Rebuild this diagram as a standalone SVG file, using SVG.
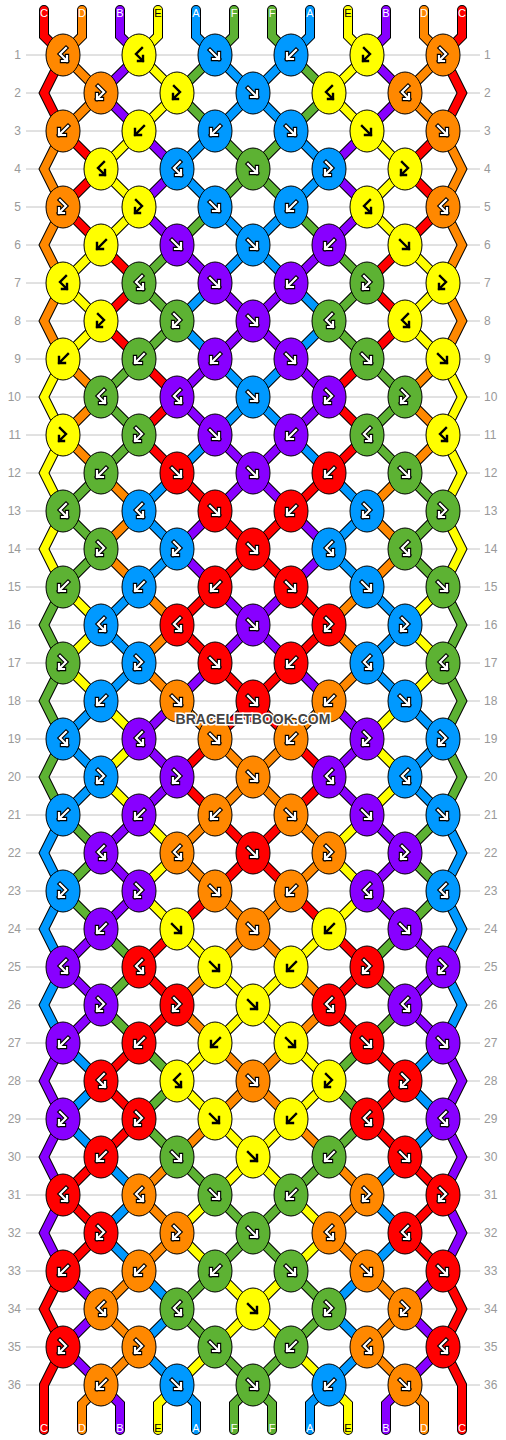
<svg xmlns="http://www.w3.org/2000/svg" width="506" height="1440" viewBox="0 0 506 1440">
<style>
.grid{stroke:#c4c4c4;stroke-width:1;fill:none}
.num{font-family:"Liberation Sans",Arial,sans-serif;font-size:12px;fill:#999}
.nl{text-anchor:end}
.lab{font-family:"Liberation Sans",Arial,sans-serif;font-size:11px;fill:#fff;text-anchor:middle}
.labk{fill:#000}
.ol{fill:none;stroke:#000;stroke-width:10;stroke-linecap:round;stroke-linejoin:miter}
.st{fill:none;stroke-width:8;stroke-linecap:round;stroke-linejoin:miter}
.sR{stroke:#ff0000}.sO{stroke:#ff8800}.sP{stroke:#8800ff}.sY{stroke:#ffff00}.sB{stroke:#0099ff}.sG{stroke:#5db233}
.k ellipse{stroke:#000;stroke-width:1}
.R{fill:#ff0000}.O{fill:#ff8800}.P{fill:#8800ff}.Y{fill:#ffff00}.B{fill:#0099ff}.G{fill:#5db233}
.ao{fill:none;stroke:#000;stroke-width:4.4;stroke-linecap:square;stroke-linejoin:miter}
.ai{fill:none;stroke:#fff;stroke-width:2.2;stroke-linecap:square;stroke-linejoin:miter}
.ak{fill:none;stroke:#000;stroke-width:2.4;stroke-linecap:square;stroke-linejoin:miter}
.wm{font-family:"Liberation Sans",Arial,sans-serif;font-size:14px;font-weight:bold;fill:#444;stroke:#fff;stroke-width:3;paint-order:stroke;text-anchor:middle}
</style>
<defs>
<path id="pf" d="M-5,-5L4,4M4,-2V4H-2"/>
<path id="pb" d="M5,-5L-4,4M-4,-2V4H2"/>
<path id="pfb" d="M-3,-7L3,-1L-4,6M-4,1V6H1"/>
<path id="pbf" d="M3,-7L-3,-1L4,6M4,1V6H-1"/>
<g id="fw"><use href="#pf" class="ao"/><use href="#pf" class="ai"/></g>
<g id="bw"><use href="#pb" class="ao"/><use href="#pb" class="ai"/></g>
<g id="fbw"><use href="#pfb" class="ao"/><use href="#pfb" class="ai"/></g>
<g id="bfw"><use href="#pbf" class="ao"/><use href="#pbf" class="ai"/></g>
<use id="fk" href="#pf" class="ak"/>
<use id="bk" href="#pb" class="ak"/>
<use id="fbk" href="#pfb" class="ak"/>
<use id="bfk" href="#pbf" class="ak"/>
</defs>
<rect width="506" height="1440" fill="#fff"/>
<path class="grid" d="M26,55H480M26,93H480M26,131H480M26,169H480M26,207H480M26,245H480M26,283H480M26,321H480M26,359H480M26,397H480M26,435H480M26,473H480M26,511H480M26,549H480M26,587H480M26,625H480M26,663H480M26,701H480M26,739H480M26,777H480M26,815H480M26,853H480M26,891H480M26,929H480M26,967H480M26,1005H480M26,1043H480M26,1081H480M26,1119H480M26,1157H480M26,1195H480M26,1233H480M26,1271H480M26,1309H480M26,1347H480M26,1385H480"/>
<g id="row-numbers">
<text class="num nl" x="21" y="59">1</text><text class="num" x="484" y="59">1</text>
<text class="num nl" x="21" y="97">2</text><text class="num" x="484" y="97">2</text>
<text class="num nl" x="21" y="135">3</text><text class="num" x="484" y="135">3</text>
<text class="num nl" x="21" y="173">4</text><text class="num" x="484" y="173">4</text>
<text class="num nl" x="21" y="211">5</text><text class="num" x="484" y="211">5</text>
<text class="num nl" x="21" y="249">6</text><text class="num" x="484" y="249">6</text>
<text class="num nl" x="21" y="287">7</text><text class="num" x="484" y="287">7</text>
<text class="num nl" x="21" y="325">8</text><text class="num" x="484" y="325">8</text>
<text class="num nl" x="21" y="363">9</text><text class="num" x="484" y="363">9</text>
<text class="num nl" x="21" y="401">10</text><text class="num" x="484" y="401">10</text>
<text class="num nl" x="21" y="439">11</text><text class="num" x="484" y="439">11</text>
<text class="num nl" x="21" y="477">12</text><text class="num" x="484" y="477">12</text>
<text class="num nl" x="21" y="515">13</text><text class="num" x="484" y="515">13</text>
<text class="num nl" x="21" y="553">14</text><text class="num" x="484" y="553">14</text>
<text class="num nl" x="21" y="591">15</text><text class="num" x="484" y="591">15</text>
<text class="num nl" x="21" y="629">16</text><text class="num" x="484" y="629">16</text>
<text class="num nl" x="21" y="667">17</text><text class="num" x="484" y="667">17</text>
<text class="num nl" x="21" y="705">18</text><text class="num" x="484" y="705">18</text>
<text class="num nl" x="21" y="743">19</text><text class="num" x="484" y="743">19</text>
<text class="num nl" x="21" y="781">20</text><text class="num" x="484" y="781">20</text>
<text class="num nl" x="21" y="819">21</text><text class="num" x="484" y="819">21</text>
<text class="num nl" x="21" y="857">22</text><text class="num" x="484" y="857">22</text>
<text class="num nl" x="21" y="895">23</text><text class="num" x="484" y="895">23</text>
<text class="num nl" x="21" y="933">24</text><text class="num" x="484" y="933">24</text>
<text class="num nl" x="21" y="971">25</text><text class="num" x="484" y="971">25</text>
<text class="num nl" x="21" y="1009">26</text><text class="num" x="484" y="1009">26</text>
<text class="num nl" x="21" y="1047">27</text><text class="num" x="484" y="1047">27</text>
<text class="num nl" x="21" y="1085">28</text><text class="num" x="484" y="1085">28</text>
<text class="num nl" x="21" y="1123">29</text><text class="num" x="484" y="1123">29</text>
<text class="num nl" x="21" y="1161">30</text><text class="num" x="484" y="1161">30</text>
<text class="num nl" x="21" y="1199">31</text><text class="num" x="484" y="1199">31</text>
<text class="num nl" x="21" y="1237">32</text><text class="num" x="484" y="1237">32</text>
<text class="num nl" x="21" y="1275">33</text><text class="num" x="484" y="1275">33</text>
<text class="num nl" x="21" y="1313">34</text><text class="num" x="484" y="1313">34</text>
<text class="num nl" x="21" y="1351">35</text><text class="num" x="484" y="1351">35</text>
<text class="num nl" x="21" y="1389">36</text><text class="num" x="484" y="1389">36</text>
</g>
<g id="connectors">
<g class="ol">
<path d="M44,10V36l19,19l-19,38l19,38l38,38l-38,38l38,38l38,38l-38,38l38,38l38,38l-38,38l38,38l38,38l38,38l-38,38l-38,38l38,38l38,38l-38,38l-38,38l38,38l38,38l-38,38l-38,38l-38,38l38,38l-38,38l-38,38l38,38l-38,38l-38,38l38,38l-38,38l-19,38l19,38l-19,38l0,19V1430"/>
<path d="M82,10V36l-19,19l38,38l-38,38l-19,38l19,38l-19,38l19,38l-19,38l19,38l38,38l-38,38l38,38l38,38l-38,38l38,38l38,38l-38,38l38,38l38,38l38,38l-38,38l-38,38l38,38l38,38l-38,38l-38,38l38,38l38,38l-38,38l-38,38l-38,38l38,38l-38,38l-38,38l38,38l-38,38l-19,19V1430"/>
<path d="M120,10V36l19,19l-38,38l38,38l38,38l-38,38l38,38l38,38l38,38l-38,38l-38,38l38,38l38,38l-38,38l-38,38l38,38l38,38l-38,38l-38,38l-38,38l38,38l-38,38l-38,38l38,38l-38,38l-38,38l38,38l-38,38l-19,38l19,38l-19,38l19,38l-19,38l19,38l38,38l-38,38l38,38l19,19V1430"/>
<path d="M158,10V36l-19,19l38,38l-38,38l-38,38l38,38l-38,38l-38,38l38,38l-38,38l-19,38l19,38l-19,38l19,38l-19,38l19,38l38,38l-38,38l38,38l38,38l-38,38l38,38l38,38l-38,38l38,38l38,38l38,38l-38,38l-38,38l38,38l38,38l-38,38l-38,38l38,38l38,38l-38,38l-38,38l-19,19V1430"/>
<path d="M196,10V36l19,19l38,38l-38,38l-38,38l38,38l38,38l-38,38l-38,38l38,38l38,38l-38,38l-38,38l-38,38l38,38l-38,38l-38,38l38,38l-38,38l-38,38l38,38l-38,38l-19,38l19,38l-19,38l19,38l-19,38l19,38l38,38l-38,38l38,38l38,38l-38,38l38,38l38,38l-38,38l38,38l19,19V1430"/>
<path d="M234,10V36l-19,19l-38,38l38,38l38,38l-38,38l-38,38l-38,38l38,38l-38,38l-38,38l38,38l-38,38l-38,38l38,38l-38,38l-19,38l19,38l-19,38l19,38l-19,38l19,38l38,38l-38,38l38,38l38,38l-38,38l38,38l38,38l-38,38l38,38l38,38l38,38l-38,38l-38,38l38,38l38,38l-19,19V1430"/>
<g transform="matrix(-1 0 0 1 506 0)">
<path d="M44,10V36l19,19l-19,38l19,38l38,38l-38,38l38,38l38,38l-38,38l38,38l38,38l-38,38l38,38l38,38l38,38l-38,38l-38,38l38,38l38,38l-38,38l-38,38l38,38l38,38l-38,38l-38,38l-38,38l38,38l-38,38l-38,38l38,38l-38,38l-38,38l38,38l-38,38l-19,38l19,38l-19,38l0,19V1430"/>
<path d="M82,10V36l-19,19l38,38l-38,38l-19,38l19,38l-19,38l19,38l-19,38l19,38l38,38l-38,38l38,38l38,38l-38,38l38,38l38,38l-38,38l38,38l38,38l38,38l-38,38l-38,38l38,38l38,38l-38,38l-38,38l38,38l38,38l-38,38l-38,38l-38,38l38,38l-38,38l-38,38l38,38l-38,38l-19,19V1430"/>
<path d="M120,10V36l19,19l-38,38l38,38l38,38l-38,38l38,38l38,38l38,38l-38,38l-38,38l38,38l38,38l-38,38l-38,38l38,38l38,38l-38,38l-38,38l-38,38l38,38l-38,38l-38,38l38,38l-38,38l-38,38l38,38l-38,38l-19,38l19,38l-19,38l19,38l-19,38l19,38l38,38l-38,38l38,38l19,19V1430"/>
<path d="M158,10V36l-19,19l38,38l-38,38l-38,38l38,38l-38,38l-38,38l38,38l-38,38l-19,38l19,38l-19,38l19,38l-19,38l19,38l38,38l-38,38l38,38l38,38l-38,38l38,38l38,38l-38,38l38,38l38,38l38,38l-38,38l-38,38l38,38l38,38l-38,38l-38,38l38,38l38,38l-38,38l-38,38l-19,19V1430"/>
<path d="M196,10V36l19,19l38,38l-38,38l-38,38l38,38l38,38l-38,38l-38,38l38,38l38,38l-38,38l-38,38l-38,38l38,38l-38,38l-38,38l38,38l-38,38l-38,38l38,38l-38,38l-19,38l19,38l-19,38l19,38l-19,38l19,38l38,38l-38,38l38,38l38,38l-38,38l38,38l38,38l-38,38l38,38l19,19V1430"/>
<path d="M234,10V36l-19,19l-38,38l38,38l38,38l-38,38l-38,38l-38,38l38,38l-38,38l-38,38l38,38l-38,38l-38,38l38,38l-38,38l-19,38l19,38l-19,38l19,38l-19,38l19,38l38,38l-38,38l38,38l38,38l-38,38l38,38l38,38l-38,38l38,38l38,38l38,38l-38,38l-38,38l38,38l38,38l-19,19V1430"/>
</g>
</g>
<g class="st">
<path class="sR" d="M44,10V36l19,19l-19,38l19,38l38,38l-38,38l38,38l38,38l-38,38l38,38l38,38l-38,38l38,38l38,38l38,38l-38,38l-38,38l38,38l38,38l-38,38l-38,38l38,38l38,38l-38,38l-38,38l-38,38l38,38l-38,38l-38,38l38,38l-38,38l-38,38l38,38l-38,38l-19,38l19,38l-19,38l0,19V1430"/>
<path class="sO" d="M82,10V36l-19,19l38,38l-38,38l-19,38l19,38l-19,38l19,38l-19,38l19,38l38,38l-38,38l38,38l38,38l-38,38l38,38l38,38l-38,38l38,38l38,38l38,38l-38,38l-38,38l38,38l38,38l-38,38l-38,38l38,38l38,38l-38,38l-38,38l-38,38l38,38l-38,38l-38,38l38,38l-38,38l-19,19V1430"/>
<path class="sP" d="M120,10V36l19,19l-38,38l38,38l38,38l-38,38l38,38l38,38l38,38l-38,38l-38,38l38,38l38,38l-38,38l-38,38l38,38l38,38l-38,38l-38,38l-38,38l38,38l-38,38l-38,38l38,38l-38,38l-38,38l38,38l-38,38l-19,38l19,38l-19,38l19,38l-19,38l19,38l38,38l-38,38l38,38l19,19V1430"/>
<path class="sY" d="M158,10V36l-19,19l38,38l-38,38l-38,38l38,38l-38,38l-38,38l38,38l-38,38l-19,38l19,38l-19,38l19,38l-19,38l19,38l38,38l-38,38l38,38l38,38l-38,38l38,38l38,38l-38,38l38,38l38,38l38,38l-38,38l-38,38l38,38l38,38l-38,38l-38,38l38,38l38,38l-38,38l-38,38l-19,19V1430"/>
<path class="sB" d="M196,10V36l19,19l38,38l-38,38l-38,38l38,38l38,38l-38,38l-38,38l38,38l38,38l-38,38l-38,38l-38,38l38,38l-38,38l-38,38l38,38l-38,38l-38,38l38,38l-38,38l-19,38l19,38l-19,38l19,38l-19,38l19,38l38,38l-38,38l38,38l38,38l-38,38l38,38l38,38l-38,38l38,38l19,19V1430"/>
<path class="sG" d="M234,10V36l-19,19l-38,38l38,38l38,38l-38,38l-38,38l-38,38l38,38l-38,38l-38,38l38,38l-38,38l-38,38l38,38l-38,38l-19,38l19,38l-19,38l19,38l-19,38l19,38l38,38l-38,38l38,38l38,38l-38,38l38,38l38,38l-38,38l38,38l38,38l38,38l-38,38l-38,38l38,38l38,38l-19,19V1430"/>
<g transform="matrix(-1 0 0 1 506 0)">
<path class="sR" d="M44,10V36l19,19l-19,38l19,38l38,38l-38,38l38,38l38,38l-38,38l38,38l38,38l-38,38l38,38l38,38l38,38l-38,38l-38,38l38,38l38,38l-38,38l-38,38l38,38l38,38l-38,38l-38,38l-38,38l38,38l-38,38l-38,38l38,38l-38,38l-38,38l38,38l-38,38l-19,38l19,38l-19,38l0,19V1430"/>
<path class="sO" d="M82,10V36l-19,19l38,38l-38,38l-19,38l19,38l-19,38l19,38l-19,38l19,38l38,38l-38,38l38,38l38,38l-38,38l38,38l38,38l-38,38l38,38l38,38l38,38l-38,38l-38,38l38,38l38,38l-38,38l-38,38l38,38l38,38l-38,38l-38,38l-38,38l38,38l-38,38l-38,38l38,38l-38,38l-19,19V1430"/>
<path class="sP" d="M120,10V36l19,19l-38,38l38,38l38,38l-38,38l38,38l38,38l38,38l-38,38l-38,38l38,38l38,38l-38,38l-38,38l38,38l38,38l-38,38l-38,38l-38,38l38,38l-38,38l-38,38l38,38l-38,38l-38,38l38,38l-38,38l-19,38l19,38l-19,38l19,38l-19,38l19,38l38,38l-38,38l38,38l19,19V1430"/>
<path class="sY" d="M158,10V36l-19,19l38,38l-38,38l-38,38l38,38l-38,38l-38,38l38,38l-38,38l-19,38l19,38l-19,38l19,38l-19,38l19,38l38,38l-38,38l38,38l38,38l-38,38l38,38l38,38l-38,38l38,38l38,38l38,38l-38,38l-38,38l38,38l38,38l-38,38l-38,38l38,38l38,38l-38,38l-38,38l-19,19V1430"/>
<path class="sB" d="M196,10V36l19,19l38,38l-38,38l-38,38l38,38l38,38l-38,38l-38,38l38,38l38,38l-38,38l-38,38l-38,38l38,38l-38,38l-38,38l38,38l-38,38l-38,38l38,38l-38,38l-19,38l19,38l-19,38l19,38l-19,38l19,38l38,38l-38,38l38,38l38,38l-38,38l38,38l38,38l-38,38l38,38l19,19V1430"/>
<path class="sG" d="M234,10V36l-19,19l-38,38l38,38l38,38l-38,38l-38,38l-38,38l38,38l-38,38l-38,38l38,38l-38,38l-38,38l38,38l-38,38l-19,38l19,38l-19,38l19,38l-19,38l19,38l38,38l-38,38l38,38l38,38l-38,38l38,38l38,38l-38,38l38,38l38,38l38,38l-38,38l-38,38l38,38l38,38l-19,19V1430"/>
</g>
</g>
</g>
<g id="string-labels">
<text class="lab" x="44" y="17">C</text><text class="lab" x="82" y="17">D</text><text class="lab" x="120" y="17">B</text><text class="lab labk" x="158" y="17">E</text><text class="lab" x="196" y="17">A</text><text class="lab" x="234" y="17">F</text><text class="lab" x="272" y="17">F</text><text class="lab" x="310" y="17">A</text><text class="lab labk" x="348" y="17">E</text><text class="lab" x="386" y="17">B</text><text class="lab" x="424" y="17">D</text><text class="lab" x="462" y="17">C</text>
<text class="lab" x="44" y="1432">C</text><text class="lab" x="82" y="1432">D</text><text class="lab" x="120" y="1432">B</text><text class="lab labk" x="158" y="1432">E</text><text class="lab" x="196" y="1432">A</text><text class="lab" x="234" y="1432">F</text><text class="lab" x="272" y="1432">F</text><text class="lab" x="310" y="1432">A</text><text class="lab labk" x="348" y="1432">E</text><text class="lab" x="386" y="1432">B</text><text class="lab" x="424" y="1432">D</text><text class="lab" x="462" y="1432">C</text>
</g>
<g id="knots">
<g id="r1k1" class="k" transform="translate(63,55)"><ellipse class="O" rx="17" ry="21"/><use href="#bfw"/></g>
<g id="r1k2" class="k" transform="translate(139,55)"><ellipse class="Y" rx="17" ry="21"/><use href="#bfk"/></g>
<g id="r1k3" class="k" transform="translate(215,55)"><ellipse class="B" rx="17" ry="21"/><use href="#fw"/></g>
<g id="r1k4" class="k" transform="translate(291,55)"><ellipse class="B" rx="17" ry="21"/><use href="#bw"/></g>
<g id="r1k5" class="k" transform="translate(367,55)"><ellipse class="Y" rx="17" ry="21"/><use href="#fbk"/></g>
<g id="r1k6" class="k" transform="translate(443,55)"><ellipse class="O" rx="17" ry="21"/><use href="#fbw"/></g>
<g id="r2k1" class="k" transform="translate(101,93)"><ellipse class="O" rx="17" ry="21"/><use href="#fbw"/></g>
<g id="r2k2" class="k" transform="translate(177,93)"><ellipse class="Y" rx="17" ry="21"/><use href="#fbk"/></g>
<g id="r2k3" class="k" transform="translate(253,93)"><ellipse class="B" rx="17" ry="21"/><use href="#fw"/></g>
<g id="r2k4" class="k" transform="translate(329,93)"><ellipse class="Y" rx="17" ry="21"/><use href="#bfk"/></g>
<g id="r2k5" class="k" transform="translate(405,93)"><ellipse class="O" rx="17" ry="21"/><use href="#bfw"/></g>
<g id="r3k1" class="k" transform="translate(63,131)"><ellipse class="O" rx="17" ry="21"/><use href="#bw"/></g>
<g id="r3k2" class="k" transform="translate(139,131)"><ellipse class="Y" rx="17" ry="21"/><use href="#bk"/></g>
<g id="r3k3" class="k" transform="translate(215,131)"><ellipse class="B" rx="17" ry="21"/><use href="#bw"/></g>
<g id="r3k4" class="k" transform="translate(291,131)"><ellipse class="B" rx="17" ry="21"/><use href="#fw"/></g>
<g id="r3k5" class="k" transform="translate(367,131)"><ellipse class="Y" rx="17" ry="21"/><use href="#fk"/></g>
<g id="r3k6" class="k" transform="translate(443,131)"><ellipse class="O" rx="17" ry="21"/><use href="#fw"/></g>
<g id="r4k1" class="k" transform="translate(101,169)"><ellipse class="Y" rx="17" ry="21"/><use href="#bfk"/></g>
<g id="r4k2" class="k" transform="translate(177,169)"><ellipse class="B" rx="17" ry="21"/><use href="#bfw"/></g>
<g id="r4k3" class="k" transform="translate(253,169)"><ellipse class="G" rx="17" ry="21"/><use href="#fw"/></g>
<g id="r4k4" class="k" transform="translate(329,169)"><ellipse class="B" rx="17" ry="21"/><use href="#fbw"/></g>
<g id="r4k5" class="k" transform="translate(405,169)"><ellipse class="Y" rx="17" ry="21"/><use href="#fbk"/></g>
<g id="r5k1" class="k" transform="translate(63,207)"><ellipse class="O" rx="17" ry="21"/><use href="#fbw"/></g>
<g id="r5k2" class="k" transform="translate(139,207)"><ellipse class="Y" rx="17" ry="21"/><use href="#fbk"/></g>
<g id="r5k3" class="k" transform="translate(215,207)"><ellipse class="B" rx="17" ry="21"/><use href="#fw"/></g>
<g id="r5k4" class="k" transform="translate(291,207)"><ellipse class="B" rx="17" ry="21"/><use href="#bw"/></g>
<g id="r5k5" class="k" transform="translate(367,207)"><ellipse class="Y" rx="17" ry="21"/><use href="#bfk"/></g>
<g id="r5k6" class="k" transform="translate(443,207)"><ellipse class="O" rx="17" ry="21"/><use href="#bfw"/></g>
<g id="r6k1" class="k" transform="translate(101,245)"><ellipse class="Y" rx="17" ry="21"/><use href="#bk"/></g>
<g id="r6k2" class="k" transform="translate(177,245)"><ellipse class="P" rx="17" ry="21"/><use href="#fw"/></g>
<g id="r6k3" class="k" transform="translate(253,245)"><ellipse class="B" rx="17" ry="21"/><use href="#fw"/></g>
<g id="r6k4" class="k" transform="translate(329,245)"><ellipse class="P" rx="17" ry="21"/><use href="#bw"/></g>
<g id="r6k5" class="k" transform="translate(405,245)"><ellipse class="Y" rx="17" ry="21"/><use href="#fk"/></g>
<g id="r7k1" class="k" transform="translate(63,283)"><ellipse class="Y" rx="17" ry="21"/><use href="#bfk"/></g>
<g id="r7k2" class="k" transform="translate(139,283)"><ellipse class="G" rx="17" ry="21"/><use href="#bfw"/></g>
<g id="r7k3" class="k" transform="translate(215,283)"><ellipse class="P" rx="17" ry="21"/><use href="#fw"/></g>
<g id="r7k4" class="k" transform="translate(291,283)"><ellipse class="P" rx="17" ry="21"/><use href="#bw"/></g>
<g id="r7k5" class="k" transform="translate(367,283)"><ellipse class="G" rx="17" ry="21"/><use href="#fbw"/></g>
<g id="r7k6" class="k" transform="translate(443,283)"><ellipse class="Y" rx="17" ry="21"/><use href="#fbk"/></g>
<g id="r8k1" class="k" transform="translate(101,321)"><ellipse class="Y" rx="17" ry="21"/><use href="#fbk"/></g>
<g id="r8k2" class="k" transform="translate(177,321)"><ellipse class="G" rx="17" ry="21"/><use href="#fbw"/></g>
<g id="r8k3" class="k" transform="translate(253,321)"><ellipse class="P" rx="17" ry="21"/><use href="#fw"/></g>
<g id="r8k4" class="k" transform="translate(329,321)"><ellipse class="G" rx="17" ry="21"/><use href="#bfw"/></g>
<g id="r8k5" class="k" transform="translate(405,321)"><ellipse class="Y" rx="17" ry="21"/><use href="#bfk"/></g>
<g id="r9k1" class="k" transform="translate(63,359)"><ellipse class="Y" rx="17" ry="21"/><use href="#bk"/></g>
<g id="r9k2" class="k" transform="translate(139,359)"><ellipse class="G" rx="17" ry="21"/><use href="#bw"/></g>
<g id="r9k3" class="k" transform="translate(215,359)"><ellipse class="P" rx="17" ry="21"/><use href="#bw"/></g>
<g id="r9k4" class="k" transform="translate(291,359)"><ellipse class="P" rx="17" ry="21"/><use href="#fw"/></g>
<g id="r9k5" class="k" transform="translate(367,359)"><ellipse class="G" rx="17" ry="21"/><use href="#fw"/></g>
<g id="r9k6" class="k" transform="translate(443,359)"><ellipse class="Y" rx="17" ry="21"/><use href="#fk"/></g>
<g id="r10k1" class="k" transform="translate(101,397)"><ellipse class="G" rx="17" ry="21"/><use href="#bfw"/></g>
<g id="r10k2" class="k" transform="translate(177,397)"><ellipse class="P" rx="17" ry="21"/><use href="#bfw"/></g>
<g id="r10k3" class="k" transform="translate(253,397)"><ellipse class="B" rx="17" ry="21"/><use href="#fw"/></g>
<g id="r10k4" class="k" transform="translate(329,397)"><ellipse class="P" rx="17" ry="21"/><use href="#fbw"/></g>
<g id="r10k5" class="k" transform="translate(405,397)"><ellipse class="G" rx="17" ry="21"/><use href="#fbw"/></g>
<g id="r11k1" class="k" transform="translate(63,435)"><ellipse class="Y" rx="17" ry="21"/><use href="#fbk"/></g>
<g id="r11k2" class="k" transform="translate(139,435)"><ellipse class="G" rx="17" ry="21"/><use href="#fbw"/></g>
<g id="r11k3" class="k" transform="translate(215,435)"><ellipse class="P" rx="17" ry="21"/><use href="#fw"/></g>
<g id="r11k4" class="k" transform="translate(291,435)"><ellipse class="P" rx="17" ry="21"/><use href="#bw"/></g>
<g id="r11k5" class="k" transform="translate(367,435)"><ellipse class="G" rx="17" ry="21"/><use href="#bfw"/></g>
<g id="r11k6" class="k" transform="translate(443,435)"><ellipse class="Y" rx="17" ry="21"/><use href="#bfk"/></g>
<g id="r12k1" class="k" transform="translate(101,473)"><ellipse class="G" rx="17" ry="21"/><use href="#bw"/></g>
<g id="r12k2" class="k" transform="translate(177,473)"><ellipse class="R" rx="17" ry="21"/><use href="#fw"/></g>
<g id="r12k3" class="k" transform="translate(253,473)"><ellipse class="P" rx="17" ry="21"/><use href="#fw"/></g>
<g id="r12k4" class="k" transform="translate(329,473)"><ellipse class="R" rx="17" ry="21"/><use href="#bw"/></g>
<g id="r12k5" class="k" transform="translate(405,473)"><ellipse class="G" rx="17" ry="21"/><use href="#fw"/></g>
<g id="r13k1" class="k" transform="translate(63,511)"><ellipse class="G" rx="17" ry="21"/><use href="#bfw"/></g>
<g id="r13k2" class="k" transform="translate(139,511)"><ellipse class="B" rx="17" ry="21"/><use href="#bfw"/></g>
<g id="r13k3" class="k" transform="translate(215,511)"><ellipse class="R" rx="17" ry="21"/><use href="#fw"/></g>
<g id="r13k4" class="k" transform="translate(291,511)"><ellipse class="R" rx="17" ry="21"/><use href="#bw"/></g>
<g id="r13k5" class="k" transform="translate(367,511)"><ellipse class="B" rx="17" ry="21"/><use href="#fbw"/></g>
<g id="r13k6" class="k" transform="translate(443,511)"><ellipse class="G" rx="17" ry="21"/><use href="#fbw"/></g>
<g id="r14k1" class="k" transform="translate(101,549)"><ellipse class="G" rx="17" ry="21"/><use href="#fbw"/></g>
<g id="r14k2" class="k" transform="translate(177,549)"><ellipse class="B" rx="17" ry="21"/><use href="#fbw"/></g>
<g id="r14k3" class="k" transform="translate(253,549)"><ellipse class="R" rx="17" ry="21"/><use href="#fw"/></g>
<g id="r14k4" class="k" transform="translate(329,549)"><ellipse class="B" rx="17" ry="21"/><use href="#bfw"/></g>
<g id="r14k5" class="k" transform="translate(405,549)"><ellipse class="G" rx="17" ry="21"/><use href="#bfw"/></g>
<g id="r15k1" class="k" transform="translate(63,587)"><ellipse class="G" rx="17" ry="21"/><use href="#bw"/></g>
<g id="r15k2" class="k" transform="translate(139,587)"><ellipse class="B" rx="17" ry="21"/><use href="#bw"/></g>
<g id="r15k3" class="k" transform="translate(215,587)"><ellipse class="R" rx="17" ry="21"/><use href="#bw"/></g>
<g id="r15k4" class="k" transform="translate(291,587)"><ellipse class="R" rx="17" ry="21"/><use href="#fw"/></g>
<g id="r15k5" class="k" transform="translate(367,587)"><ellipse class="B" rx="17" ry="21"/><use href="#fw"/></g>
<g id="r15k6" class="k" transform="translate(443,587)"><ellipse class="G" rx="17" ry="21"/><use href="#fw"/></g>
<g id="r16k1" class="k" transform="translate(101,625)"><ellipse class="B" rx="17" ry="21"/><use href="#bfw"/></g>
<g id="r16k2" class="k" transform="translate(177,625)"><ellipse class="R" rx="17" ry="21"/><use href="#bfw"/></g>
<g id="r16k3" class="k" transform="translate(253,625)"><ellipse class="P" rx="17" ry="21"/><use href="#fw"/></g>
<g id="r16k4" class="k" transform="translate(329,625)"><ellipse class="R" rx="17" ry="21"/><use href="#fbw"/></g>
<g id="r16k5" class="k" transform="translate(405,625)"><ellipse class="B" rx="17" ry="21"/><use href="#fbw"/></g>
<g id="r17k1" class="k" transform="translate(63,663)"><ellipse class="G" rx="17" ry="21"/><use href="#fbw"/></g>
<g id="r17k2" class="k" transform="translate(139,663)"><ellipse class="B" rx="17" ry="21"/><use href="#fbw"/></g>
<g id="r17k3" class="k" transform="translate(215,663)"><ellipse class="R" rx="17" ry="21"/><use href="#fw"/></g>
<g id="r17k4" class="k" transform="translate(291,663)"><ellipse class="R" rx="17" ry="21"/><use href="#bw"/></g>
<g id="r17k5" class="k" transform="translate(367,663)"><ellipse class="B" rx="17" ry="21"/><use href="#bfw"/></g>
<g id="r17k6" class="k" transform="translate(443,663)"><ellipse class="G" rx="17" ry="21"/><use href="#bfw"/></g>
<g id="r18k1" class="k" transform="translate(101,701)"><ellipse class="B" rx="17" ry="21"/><use href="#bw"/></g>
<g id="r18k2" class="k" transform="translate(177,701)"><ellipse class="O" rx="17" ry="21"/><use href="#fw"/></g>
<g id="r18k3" class="k" transform="translate(253,701)"><ellipse class="R" rx="17" ry="21"/><use href="#fw"/></g>
<g id="r18k4" class="k" transform="translate(329,701)"><ellipse class="O" rx="17" ry="21"/><use href="#bw"/></g>
<g id="r18k5" class="k" transform="translate(405,701)"><ellipse class="B" rx="17" ry="21"/><use href="#fw"/></g>
<g id="r19k1" class="k" transform="translate(63,739)"><ellipse class="B" rx="17" ry="21"/><use href="#bfw"/></g>
<g id="r19k2" class="k" transform="translate(139,739)"><ellipse class="P" rx="17" ry="21"/><use href="#bfw"/></g>
<g id="r19k3" class="k" transform="translate(215,739)"><ellipse class="O" rx="17" ry="21"/><use href="#fw"/></g>
<g id="r19k4" class="k" transform="translate(291,739)"><ellipse class="O" rx="17" ry="21"/><use href="#bw"/></g>
<g id="r19k5" class="k" transform="translate(367,739)"><ellipse class="P" rx="17" ry="21"/><use href="#fbw"/></g>
<g id="r19k6" class="k" transform="translate(443,739)"><ellipse class="B" rx="17" ry="21"/><use href="#fbw"/></g>
<g id="r20k1" class="k" transform="translate(101,777)"><ellipse class="B" rx="17" ry="21"/><use href="#fbw"/></g>
<g id="r20k2" class="k" transform="translate(177,777)"><ellipse class="P" rx="17" ry="21"/><use href="#fbw"/></g>
<g id="r20k3" class="k" transform="translate(253,777)"><ellipse class="O" rx="17" ry="21"/><use href="#fw"/></g>
<g id="r20k4" class="k" transform="translate(329,777)"><ellipse class="P" rx="17" ry="21"/><use href="#bfw"/></g>
<g id="r20k5" class="k" transform="translate(405,777)"><ellipse class="B" rx="17" ry="21"/><use href="#bfw"/></g>
<g id="r21k1" class="k" transform="translate(63,815)"><ellipse class="B" rx="17" ry="21"/><use href="#bw"/></g>
<g id="r21k2" class="k" transform="translate(139,815)"><ellipse class="P" rx="17" ry="21"/><use href="#bw"/></g>
<g id="r21k3" class="k" transform="translate(215,815)"><ellipse class="O" rx="17" ry="21"/><use href="#bw"/></g>
<g id="r21k4" class="k" transform="translate(291,815)"><ellipse class="O" rx="17" ry="21"/><use href="#fw"/></g>
<g id="r21k5" class="k" transform="translate(367,815)"><ellipse class="P" rx="17" ry="21"/><use href="#fw"/></g>
<g id="r21k6" class="k" transform="translate(443,815)"><ellipse class="B" rx="17" ry="21"/><use href="#fw"/></g>
<g id="r22k1" class="k" transform="translate(101,853)"><ellipse class="P" rx="17" ry="21"/><use href="#bfw"/></g>
<g id="r22k2" class="k" transform="translate(177,853)"><ellipse class="O" rx="17" ry="21"/><use href="#bfw"/></g>
<g id="r22k3" class="k" transform="translate(253,853)"><ellipse class="R" rx="17" ry="21"/><use href="#fw"/></g>
<g id="r22k4" class="k" transform="translate(329,853)"><ellipse class="O" rx="17" ry="21"/><use href="#fbw"/></g>
<g id="r22k5" class="k" transform="translate(405,853)"><ellipse class="P" rx="17" ry="21"/><use href="#fbw"/></g>
<g id="r23k1" class="k" transform="translate(63,891)"><ellipse class="B" rx="17" ry="21"/><use href="#fbw"/></g>
<g id="r23k2" class="k" transform="translate(139,891)"><ellipse class="P" rx="17" ry="21"/><use href="#fbw"/></g>
<g id="r23k3" class="k" transform="translate(215,891)"><ellipse class="O" rx="17" ry="21"/><use href="#fw"/></g>
<g id="r23k4" class="k" transform="translate(291,891)"><ellipse class="O" rx="17" ry="21"/><use href="#bw"/></g>
<g id="r23k5" class="k" transform="translate(367,891)"><ellipse class="P" rx="17" ry="21"/><use href="#bfw"/></g>
<g id="r23k6" class="k" transform="translate(443,891)"><ellipse class="B" rx="17" ry="21"/><use href="#bfw"/></g>
<g id="r24k1" class="k" transform="translate(101,929)"><ellipse class="P" rx="17" ry="21"/><use href="#bw"/></g>
<g id="r24k2" class="k" transform="translate(177,929)"><ellipse class="Y" rx="17" ry="21"/><use href="#fk"/></g>
<g id="r24k3" class="k" transform="translate(253,929)"><ellipse class="O" rx="17" ry="21"/><use href="#fw"/></g>
<g id="r24k4" class="k" transform="translate(329,929)"><ellipse class="Y" rx="17" ry="21"/><use href="#bk"/></g>
<g id="r24k5" class="k" transform="translate(405,929)"><ellipse class="P" rx="17" ry="21"/><use href="#fw"/></g>
<g id="r25k1" class="k" transform="translate(63,967)"><ellipse class="P" rx="17" ry="21"/><use href="#bfw"/></g>
<g id="r25k2" class="k" transform="translate(139,967)"><ellipse class="R" rx="17" ry="21"/><use href="#bfw"/></g>
<g id="r25k3" class="k" transform="translate(215,967)"><ellipse class="Y" rx="17" ry="21"/><use href="#fk"/></g>
<g id="r25k4" class="k" transform="translate(291,967)"><ellipse class="Y" rx="17" ry="21"/><use href="#bk"/></g>
<g id="r25k5" class="k" transform="translate(367,967)"><ellipse class="R" rx="17" ry="21"/><use href="#fbw"/></g>
<g id="r25k6" class="k" transform="translate(443,967)"><ellipse class="P" rx="17" ry="21"/><use href="#fbw"/></g>
<g id="r26k1" class="k" transform="translate(101,1005)"><ellipse class="P" rx="17" ry="21"/><use href="#fbw"/></g>
<g id="r26k2" class="k" transform="translate(177,1005)"><ellipse class="R" rx="17" ry="21"/><use href="#fbw"/></g>
<g id="r26k3" class="k" transform="translate(253,1005)"><ellipse class="Y" rx="17" ry="21"/><use href="#fk"/></g>
<g id="r26k4" class="k" transform="translate(329,1005)"><ellipse class="R" rx="17" ry="21"/><use href="#bfw"/></g>
<g id="r26k5" class="k" transform="translate(405,1005)"><ellipse class="P" rx="17" ry="21"/><use href="#bfw"/></g>
<g id="r27k1" class="k" transform="translate(63,1043)"><ellipse class="P" rx="17" ry="21"/><use href="#bw"/></g>
<g id="r27k2" class="k" transform="translate(139,1043)"><ellipse class="R" rx="17" ry="21"/><use href="#bw"/></g>
<g id="r27k3" class="k" transform="translate(215,1043)"><ellipse class="Y" rx="17" ry="21"/><use href="#bk"/></g>
<g id="r27k4" class="k" transform="translate(291,1043)"><ellipse class="Y" rx="17" ry="21"/><use href="#fk"/></g>
<g id="r27k5" class="k" transform="translate(367,1043)"><ellipse class="R" rx="17" ry="21"/><use href="#fw"/></g>
<g id="r27k6" class="k" transform="translate(443,1043)"><ellipse class="P" rx="17" ry="21"/><use href="#fw"/></g>
<g id="r28k1" class="k" transform="translate(101,1081)"><ellipse class="R" rx="17" ry="21"/><use href="#bfw"/></g>
<g id="r28k2" class="k" transform="translate(177,1081)"><ellipse class="Y" rx="17" ry="21"/><use href="#bfk"/></g>
<g id="r28k3" class="k" transform="translate(253,1081)"><ellipse class="O" rx="17" ry="21"/><use href="#fw"/></g>
<g id="r28k4" class="k" transform="translate(329,1081)"><ellipse class="Y" rx="17" ry="21"/><use href="#fbk"/></g>
<g id="r28k5" class="k" transform="translate(405,1081)"><ellipse class="R" rx="17" ry="21"/><use href="#fbw"/></g>
<g id="r29k1" class="k" transform="translate(63,1119)"><ellipse class="P" rx="17" ry="21"/><use href="#fbw"/></g>
<g id="r29k2" class="k" transform="translate(139,1119)"><ellipse class="R" rx="17" ry="21"/><use href="#fbw"/></g>
<g id="r29k3" class="k" transform="translate(215,1119)"><ellipse class="Y" rx="17" ry="21"/><use href="#fk"/></g>
<g id="r29k4" class="k" transform="translate(291,1119)"><ellipse class="Y" rx="17" ry="21"/><use href="#bk"/></g>
<g id="r29k5" class="k" transform="translate(367,1119)"><ellipse class="R" rx="17" ry="21"/><use href="#bfw"/></g>
<g id="r29k6" class="k" transform="translate(443,1119)"><ellipse class="P" rx="17" ry="21"/><use href="#bfw"/></g>
<g id="r30k1" class="k" transform="translate(101,1157)"><ellipse class="R" rx="17" ry="21"/><use href="#bw"/></g>
<g id="r30k2" class="k" transform="translate(177,1157)"><ellipse class="G" rx="17" ry="21"/><use href="#fw"/></g>
<g id="r30k3" class="k" transform="translate(253,1157)"><ellipse class="Y" rx="17" ry="21"/><use href="#fk"/></g>
<g id="r30k4" class="k" transform="translate(329,1157)"><ellipse class="G" rx="17" ry="21"/><use href="#bw"/></g>
<g id="r30k5" class="k" transform="translate(405,1157)"><ellipse class="R" rx="17" ry="21"/><use href="#fw"/></g>
<g id="r31k1" class="k" transform="translate(63,1195)"><ellipse class="R" rx="17" ry="21"/><use href="#bfw"/></g>
<g id="r31k2" class="k" transform="translate(139,1195)"><ellipse class="O" rx="17" ry="21"/><use href="#bfw"/></g>
<g id="r31k3" class="k" transform="translate(215,1195)"><ellipse class="G" rx="17" ry="21"/><use href="#fw"/></g>
<g id="r31k4" class="k" transform="translate(291,1195)"><ellipse class="G" rx="17" ry="21"/><use href="#bw"/></g>
<g id="r31k5" class="k" transform="translate(367,1195)"><ellipse class="O" rx="17" ry="21"/><use href="#fbw"/></g>
<g id="r31k6" class="k" transform="translate(443,1195)"><ellipse class="R" rx="17" ry="21"/><use href="#fbw"/></g>
<g id="r32k1" class="k" transform="translate(101,1233)"><ellipse class="R" rx="17" ry="21"/><use href="#fbw"/></g>
<g id="r32k2" class="k" transform="translate(177,1233)"><ellipse class="O" rx="17" ry="21"/><use href="#fbw"/></g>
<g id="r32k3" class="k" transform="translate(253,1233)"><ellipse class="G" rx="17" ry="21"/><use href="#fw"/></g>
<g id="r32k4" class="k" transform="translate(329,1233)"><ellipse class="O" rx="17" ry="21"/><use href="#bfw"/></g>
<g id="r32k5" class="k" transform="translate(405,1233)"><ellipse class="R" rx="17" ry="21"/><use href="#bfw"/></g>
<g id="r33k1" class="k" transform="translate(63,1271)"><ellipse class="R" rx="17" ry="21"/><use href="#bw"/></g>
<g id="r33k2" class="k" transform="translate(139,1271)"><ellipse class="O" rx="17" ry="21"/><use href="#bw"/></g>
<g id="r33k3" class="k" transform="translate(215,1271)"><ellipse class="G" rx="17" ry="21"/><use href="#bw"/></g>
<g id="r33k4" class="k" transform="translate(291,1271)"><ellipse class="G" rx="17" ry="21"/><use href="#fw"/></g>
<g id="r33k5" class="k" transform="translate(367,1271)"><ellipse class="O" rx="17" ry="21"/><use href="#fw"/></g>
<g id="r33k6" class="k" transform="translate(443,1271)"><ellipse class="R" rx="17" ry="21"/><use href="#fw"/></g>
<g id="r34k1" class="k" transform="translate(101,1309)"><ellipse class="O" rx="17" ry="21"/><use href="#bfw"/></g>
<g id="r34k2" class="k" transform="translate(177,1309)"><ellipse class="G" rx="17" ry="21"/><use href="#bfw"/></g>
<g id="r34k3" class="k" transform="translate(253,1309)"><ellipse class="Y" rx="17" ry="21"/><use href="#fk"/></g>
<g id="r34k4" class="k" transform="translate(329,1309)"><ellipse class="G" rx="17" ry="21"/><use href="#fbw"/></g>
<g id="r34k5" class="k" transform="translate(405,1309)"><ellipse class="O" rx="17" ry="21"/><use href="#fbw"/></g>
<g id="r35k1" class="k" transform="translate(63,1347)"><ellipse class="R" rx="17" ry="21"/><use href="#fbw"/></g>
<g id="r35k2" class="k" transform="translate(139,1347)"><ellipse class="O" rx="17" ry="21"/><use href="#fbw"/></g>
<g id="r35k3" class="k" transform="translate(215,1347)"><ellipse class="G" rx="17" ry="21"/><use href="#fw"/></g>
<g id="r35k4" class="k" transform="translate(291,1347)"><ellipse class="G" rx="17" ry="21"/><use href="#bw"/></g>
<g id="r35k5" class="k" transform="translate(367,1347)"><ellipse class="O" rx="17" ry="21"/><use href="#bfw"/></g>
<g id="r35k6" class="k" transform="translate(443,1347)"><ellipse class="R" rx="17" ry="21"/><use href="#bfw"/></g>
<g id="r36k1" class="k" transform="translate(101,1385)"><ellipse class="O" rx="17" ry="21"/><use href="#bw"/></g>
<g id="r36k2" class="k" transform="translate(177,1385)"><ellipse class="B" rx="17" ry="21"/><use href="#fw"/></g>
<g id="r36k3" class="k" transform="translate(253,1385)"><ellipse class="G" rx="17" ry="21"/><use href="#fw"/></g>
<g id="r36k4" class="k" transform="translate(329,1385)"><ellipse class="B" rx="17" ry="21"/><use href="#bw"/></g>
<g id="r36k5" class="k" transform="translate(405,1385)"><ellipse class="O" rx="17" ry="21"/><use href="#fw"/></g>
</g>
<text class="wm" x="253" y="724">BRACELETBOOK.COM</text>
</svg>
